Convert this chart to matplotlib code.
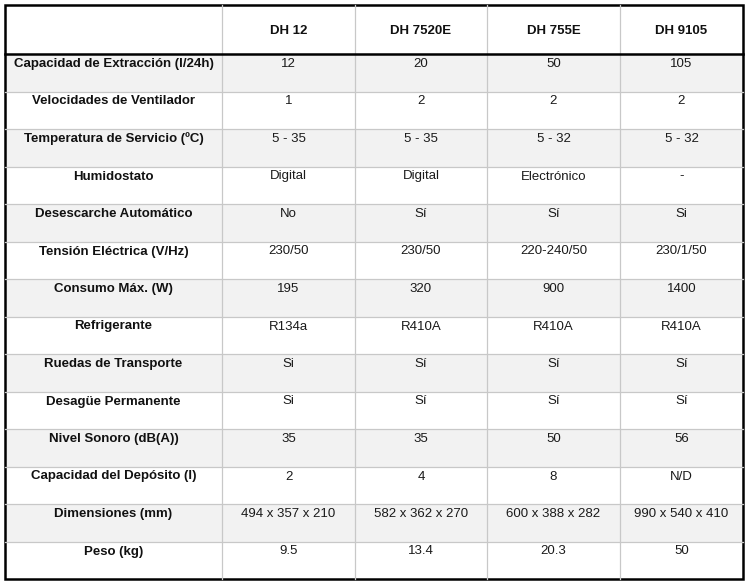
import matplotlib.pyplot as plt
from matplotlib.patches import Rectangle

models = ["DH 12", "DH 7520E", "DH 755E", "DH 9105"]
features = [
    "Capacidad de Extracción (l/24h)",
    "Velocidades de Ventilador",
    "Temperatura de Servicio (ºC)",
    "Humidostato",
    "Desescarche Automático",
    "Tensión Eléctrica (V/Hz)",
    "Consumo Máx. (W)",
    "Refrigerante",
    "Ruedas de Transporte",
    "Desagüe Permanente",
    "Nivel Sonoro (dB(A))",
    "Capacidad del Depósito (l)",
    "Dimensiones (mm)",
    "Peso (kg)",
]
dh12 = ["12", "1", "5 - 35", "Digital", "No", "230/50", "195", "R134a",
        "Si", "Si", "35", "2", "494 x 357 x 210", "9.5"]
dh7520e = ["20", "2", "5 - 35", "Digital", "Sí", "230/50", "320", "R410A",
           "Sí", "Sí", "35", "4", "582 x 362 x 270", "13.4"]
dh755e = ["50", "2", "5 - 32", "Electrónico", "Sí", "220-240/50", "900", "R410A",
          "Sí", "Sí", "50", "8", "600 x 388 x 282", "20.3"]
dh9105 = ["105", "2", "5 - 32", "-", "Si", "230/1/50", "1400", "R410A",
          "Sí", "Sí", "56", "N/D", "990 x 540 x 410", "50"]
columns = [dh12, dh7520e, dh755e, dh9105]

# layout in pixels
col_edges = [5, 222, 355, 487, 620, 743]
top, header_h = 5, 49
n = len(features)
bottom = 579
row_h = (bottom - top - header_h) / n

plt.rcParams['font.family'] = ['Liberation Sans', 'DejaVu Sans']
fig = plt.figure(figsize=(7.47, 5.85), dpi=100)
ax = fig.add_axes([0, 0, 1, 1])
ax.set_xlim(0, 747)
ax.set_ylim(585, 0)
ax.axis('off')

grid = '#c8c8c8'
fs = 9.5

# striped rows
for i in range(n):
    y0 = top + header_h + i * row_h
    if i % 2 == 0:
        ax.add_patch(Rectangle((col_edges[0], y0), col_edges[-1] - col_edges[0], row_h,
                               facecolor='#f2f2f2', edgecolor='none'))

# horizontal row lines
for i in range(1, n):
    y = top + header_h + i * row_h
    ax.plot([col_edges[0], col_edges[-1]], [y, y], color=grid, lw=0.9)

# vertical lines
for x in col_edges[1:-1]:
    ax.plot([x, x], [top, bottom], color=grid, lw=0.9)

# header separator and outer border
ax.plot([col_edges[0], col_edges[-1]], [top + header_h] * 2, color='black', lw=1.8)
ax.add_patch(Rectangle((col_edges[0], top), col_edges[-1] - col_edges[0], bottom - top,
                       facecolor='none', edgecolor='black', lw=1.8))

# header text
for j, m in enumerate(models):
    xc = (col_edges[j + 1] + col_edges[j + 2]) / 2
    ax.text(xc, top + header_h / 2 + 1, m, ha='center', va='center',
            fontsize=fs, fontweight='bold', color='#111111')

# body text
for i, f in enumerate(features):
    yt = top + header_h + i * row_h + 10
    xc = (col_edges[0] + col_edges[1]) / 2
    ax.text(xc, yt, f, ha='center', va='center', fontsize=fs,
            fontweight='bold', color='#111111')
    for j, col in enumerate(columns):
        xc = (col_edges[j + 1] + col_edges[j + 2]) / 2
        ax.text(xc, yt, col[i], ha='center', va='center', fontsize=fs,
                color='#1a1a1a')

fig.savefig('out.png', dpi=100)
